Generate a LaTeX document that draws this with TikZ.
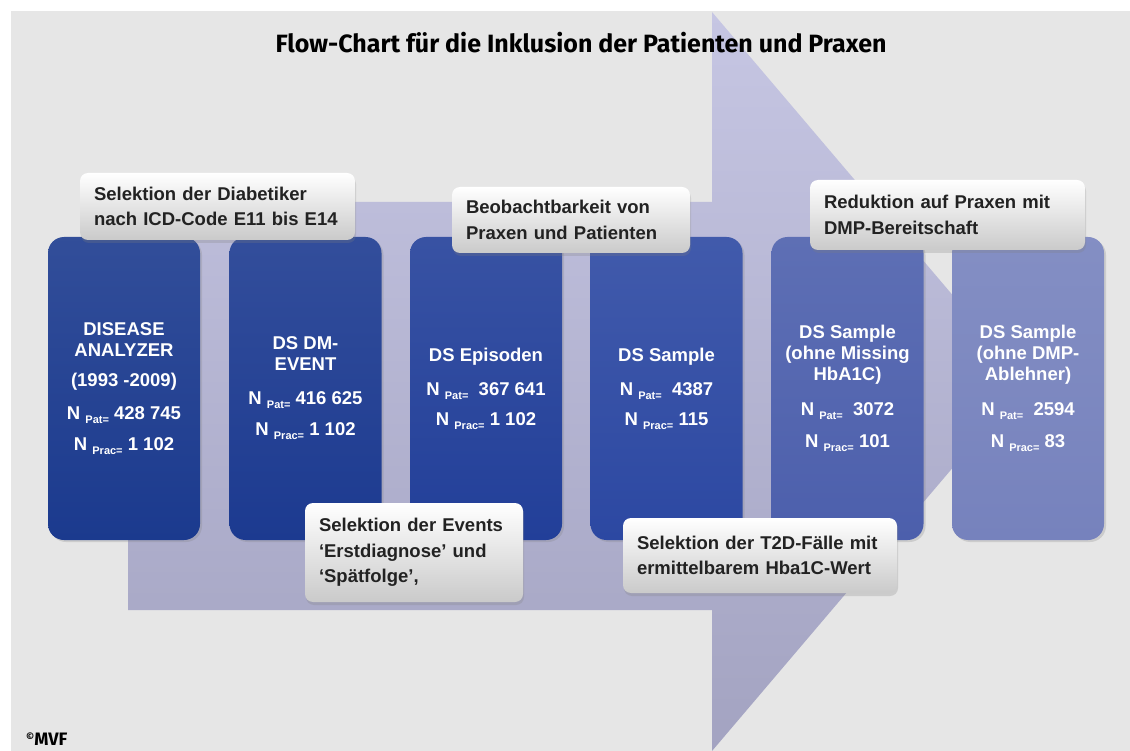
\documentclass[tikz,border=0pt]{standalone}
\usepackage{fontspec}
\setmainfont{Liberation Sans}
\newfontfamily\boxfont{Liberation Sans}
\newfontfamily\titlefont{Fira Sans}
\usetikzlibrary{shadows}
\definecolor{bg}{HTML}{E6E6E6}
\definecolor{arrowtop}{HTML}{C6C6E3}
\definecolor{arrowbot}{HTML}{A3A3C1}
\definecolor{bA}{HTML}{1B3A8E}
\definecolor{bB}{HTML}{1C3A90}
\definecolor{bC}{HTML}{223F99}
\definecolor{bD}{HTML}{2C48A2}
\definecolor{bE}{HTML}{4C5FAC}
\definecolor{bF}{HTML}{7682BD}
\definecolor{labtxt}{HTML}{222222}
\definecolor{labbot}{HTML}{CACACA}
\newcommand\sbx[1]{\raisebox{-4pt}{\fontsize{11}{11}\selectfont #1}}
\begin{document}
\begin{tikzpicture}[x=1pt,y=-1pt,
  dsbox/.style={rounded corners=16pt, minimum width=152pt, minimum height=303pt,
    inner sep=0pt, align=center, text=white,
    font=\boxfont\bfseries\fontsize{18.5}{21}\selectfont,
    drop shadow={shadow xshift=2pt, shadow yshift=-2pt, opacity=0.25}},
  callout/.style={rounded corners=8pt, top color=white, bottom color=labbot,
    inner xsep=14pt, inner ysep=0pt, align=left, text=labtxt,
    font=\bfseries\fontsize{18.5}{25.5}\selectfont,
    drop shadow={shadow xshift=1pt, shadow yshift=-3pt, opacity=0.25}}]
\useasboundingbox (0,0) rectangle (1130,751);
\fill[white] (0,0) rectangle (1130,751);
\fill[bg] (11,11) rectangle (1130,751);
\begin{scope}
  \clip (11,11) rectangle (1130,751);
  \shade[top color=arrowtop, bottom color=arrowbot]
    (128,202) -- (712,202) -- (712,12) -- (1026,381.5) -- (712,751) -- (712,610) -- (128,610) -- cycle;
\end{scope}

\node[anchor=center, font=\titlefont\bfseries\fontsize{25}{28}\selectfont] (title) at (581,43)
  {Flow-Chart für die Inklusion der Patienten und Praxen};

\node[dsbox, top color=bA!90!white, bottom color=bA] (box1) at (124,388.5)
  {DISEASE\\ANALYZER\\[9pt](1993 -2009)\\[12pt]N \sbx{Pat=} 428 745\\[10pt]N \sbx{Prac=} 1 102};
\node[dsbox, top color=bB!90!white, bottom color=bB] (box2) at (305.5,388.5)
  {DS DM-\\EVENT\\[13pt]N \sbx{Pat=} 416 625\\[10pt]N \sbx{Prac=} 1 102};
\node[dsbox, top color=bC!90!white, bottom color=bC] (box3) at (486,388.5)
  {DS Episoden\\[13pt]N \sbx{Pat=}\ \ 367 641\\[9pt]N \sbx{Prac=} 1 102};
\node[dsbox, top color=bD!90!white, bottom color=bD] (box4) at (666.5,388.5)
  {DS Sample\\[13pt]N \sbx{Pat=}\ \ 4387\\[9pt]N \sbx{Prac=} 115};
\node[dsbox, top color=bE!90!white, bottom color=bE] (box5) at (847.5,388.5)
  {DS Sample\\(ohne Missing\\HbA1C)\\[14pt]N \sbx{Pat=}\ \ 3072\\[11pt]N \sbx{Prac=}\ 101};
\node[dsbox, top color=bF!90!white, bottom color=bF] (box6) at (1028,388.5)
  {DS Sample\\(ohne DMP-\\Ablehner)\\[14pt]N \sbx{Pat=}\ \ 2594\\[11pt]N \sbx{Prac=}\ 83};

\node[callout, text width=247pt, minimum height=67pt] (lab1) at (217.5,206.5)
  {Selektion der Diabetiker\\nach ICD-Code E11 bis E14};
\node[callout, text width=210pt, minimum height=66pt] (lab2) at (571,220)
  {Beobachtbarkeit von\\Praxen und Patienten};
\node[callout, text width=247pt, minimum height=70pt] (lab3) at (947.5,215)
  {Reduktion auf Praxen mit\\DMP-Bereitschaft};
\node[callout, text width=190pt, minimum height=99pt] (lab4) at (414,552.5)
  {Selektion der Events\\‘Erstdiagnose’ und\\‘Spätfolge’,};
\node[callout, text width=246pt, minimum height=75pt] (lab5) at (760,555.5)
  {Selektion der T2D-Fälle mit\\ermittelbarem Hba1C-Wert};

\node[anchor=base west, inner sep=0pt, font=\titlefont\bfseries\fontsize{18}{18}\selectfont] (copy) at (26,745)
  {{\fontsize{10}{10}\selectfont\raisebox{5pt}{©}}MVF};
\end{tikzpicture}
\end{document}
